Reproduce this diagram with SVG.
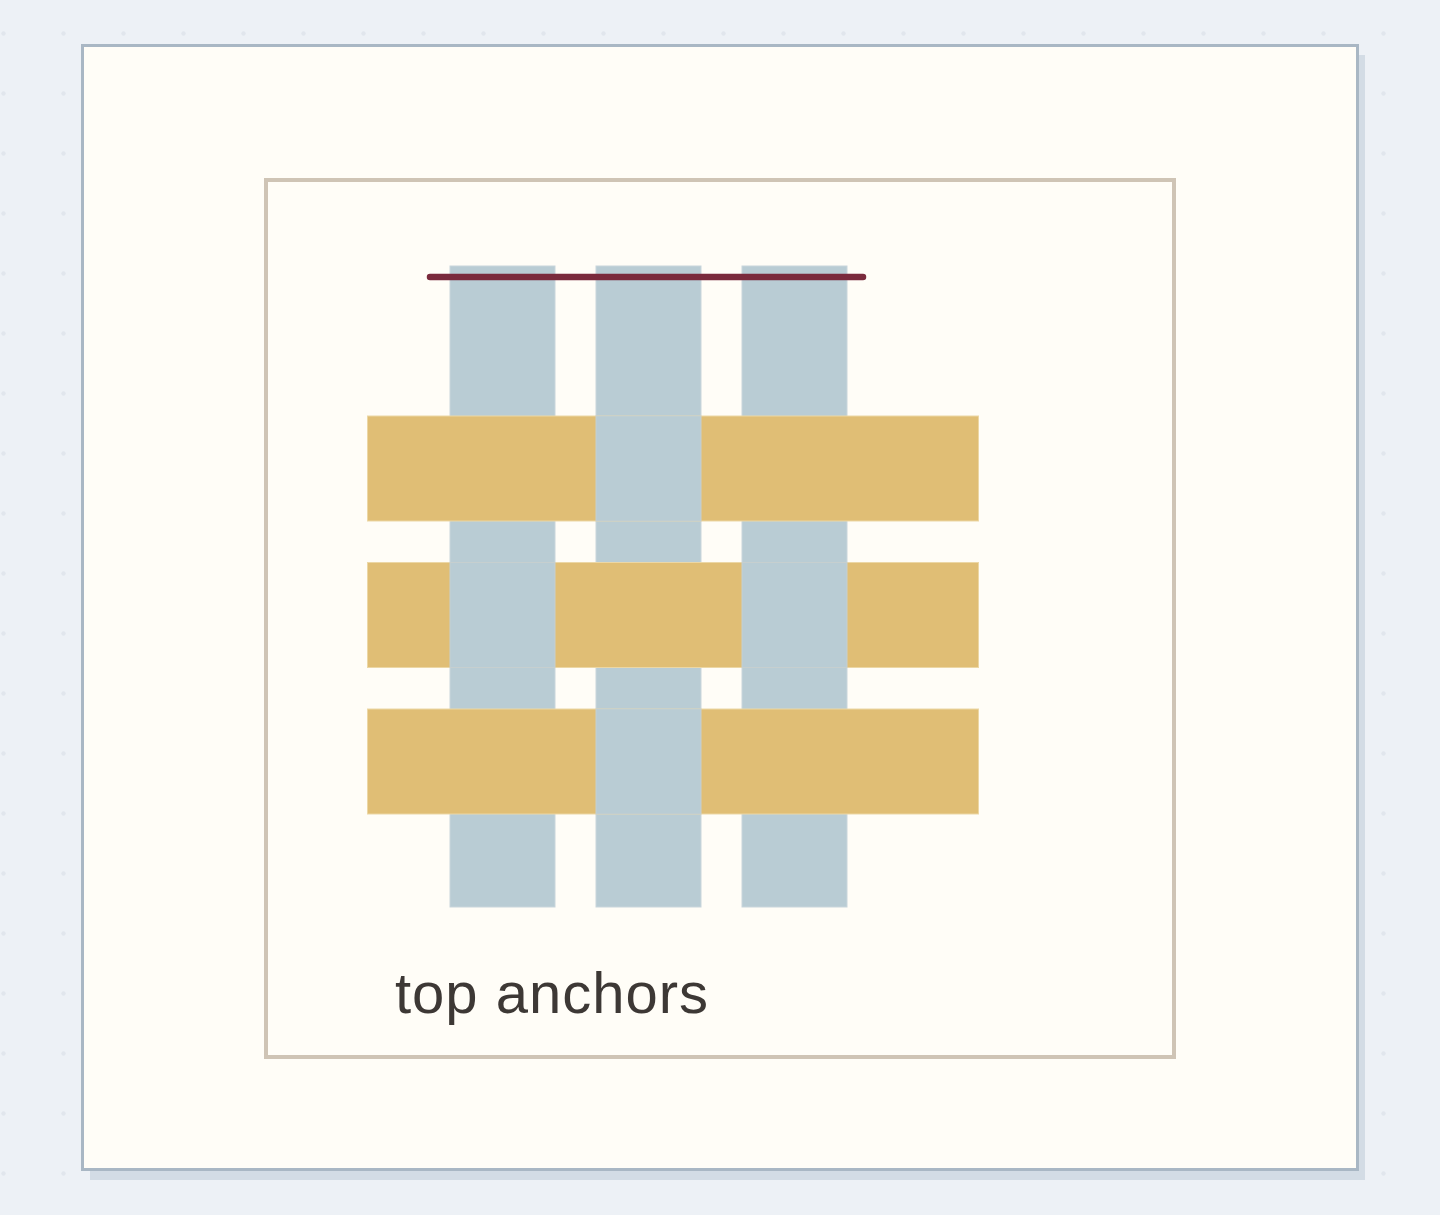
<svg xmlns="http://www.w3.org/2000/svg" width="1440" height="1215" viewBox="0 0 1440 1215">
  <defs>
    <pattern id="dots" x="0" y="0" width="60" height="60" patternUnits="userSpaceOnUse">
      <circle cx="3.5" cy="33.5" r="2.2" fill="#e1e6ed"/>
    </pattern>
  </defs>
  <style>
    .warp { fill: #b9ccd4; stroke: #c9d6dc; stroke-width: 1; }
    .weft { fill: #e0be75; stroke: #ecd7a5; stroke-width: 1; }
    .over { fill: #b9ccd4; stroke: #c6cfcf; stroke-width: 1; }
    .label { font-family: "Liberation Sans", Arial, sans-serif; font-size: 58px; letter-spacing: 1px; fill: #3d3835; }
  </style>
  <rect x="0" y="0" width="1440" height="1215" fill="#edf1f6"/>
  <rect x="0" y="0" width="1440" height="1215" fill="url(#dots)"/>
  <g id="frame">
    <rect x="90" y="55" width="1275" height="1125" fill="#d3dce5"/>
    <rect x="82.5" y="45.5" width="1275" height="1124" fill="#fffdf7" stroke="#a9b7c4" stroke-width="3"/>
  </g>
  <g id="panel">
    <rect x="266" y="180" width="908" height="877" fill="#fffdf7" stroke="#cfc4b5" stroke-width="4"/>
  </g>
  <g id="warps">
    <rect class="warp" x="450" y="266" width="105" height="641"/>
    <rect class="warp" x="596" y="266" width="105" height="641"/>
    <rect class="warp" x="742" y="266" width="105" height="641"/>
  </g>
  <g id="wefts">
    <rect class="weft" x="367.5" y="416" width="611" height="105"/>
    <rect class="weft" x="367.5" y="562.5" width="611" height="105"/>
    <rect class="weft" x="367.5" y="709" width="611" height="105"/>
  </g>
  <g id="crossings">
    <rect class="over" x="596" y="416" width="105" height="105"/>
    <rect class="over" x="450" y="562.5" width="105" height="105"/>
    <rect class="over" x="742" y="562.5" width="105" height="105"/>
    <rect class="over" x="596" y="709" width="105" height="105"/>
  </g>
  <g id="connectors">
    <line x1="430" y1="277" x2="863" y2="277" stroke="#7a2a3c" stroke-width="6.5" stroke-linecap="round"/>
  </g>
  <g id="caption">
    <text class="label" x="395" y="1013">top anchors</text>
  </g>
</svg>
